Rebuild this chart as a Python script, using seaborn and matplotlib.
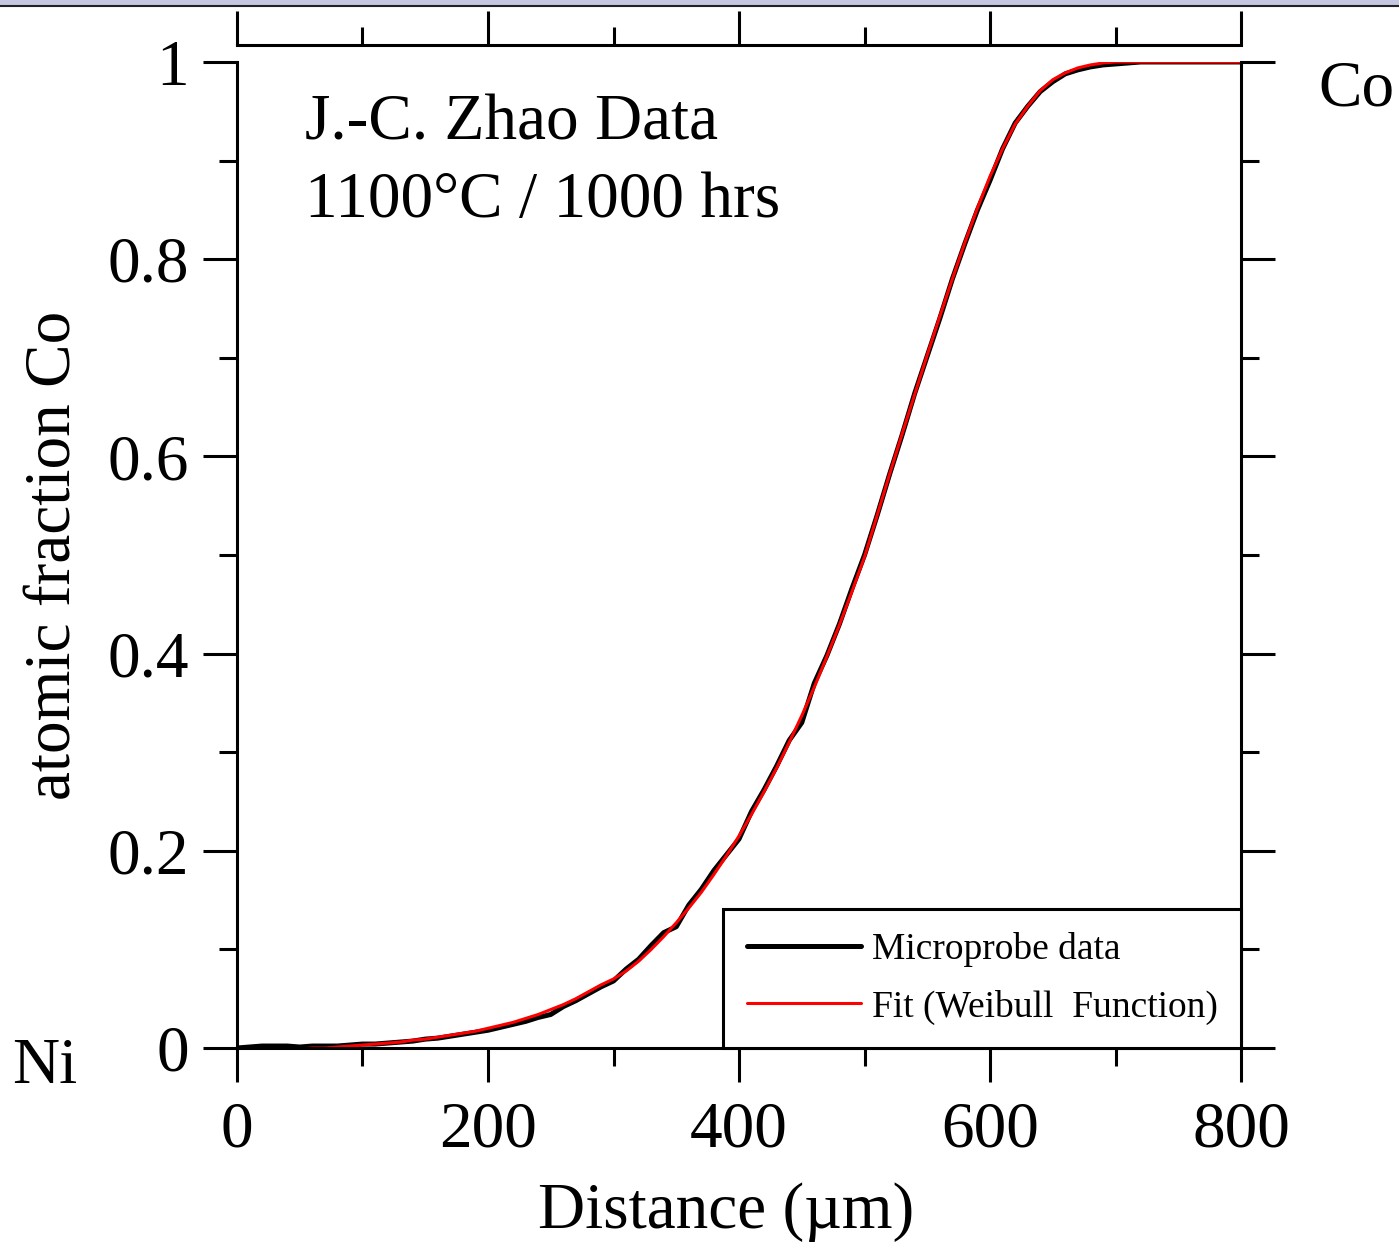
import numpy as np
import pandas as pd
import matplotlib
matplotlib.use("Agg")
import matplotlib.pyplot as plt
from matplotlib.ticker import MultipleLocator, FuncFormatter
from matplotlib.patches import Rectangle
import seaborn as sns

sns.set_theme(style="ticks")
plt.rcParams['font.family'] = ['Liberation Serif', 'DejaVu Serif']
plt.rcParams['text.color'] = 'black'
plt.rcParams['axes.labelcolor'] = 'black'
plt.rcParams['xtick.color'] = 'black'
plt.rcParams['ytick.color'] = 'black'

# ---------------- data ----------------
distance = list(range(0, 810, 10))

microprobe = [0.000, 0.001, 0.002, 0.002, 0.002, 0.001, 0.002, 0.002, 0.002, 0.003,
              0.004, 0.004, 0.005, 0.006, 0.007, 0.009, 0.010, 0.012, 0.014, 0.016,
              0.018, 0.021, 0.024, 0.027, 0.031, 0.034, 0.042, 0.048, 0.055, 0.062,
              0.068, 0.080, 0.090, 0.104, 0.117, 0.123, 0.145, 0.161, 0.180, 0.196,
              0.212, 0.240, 0.262, 0.286, 0.312, 0.330, 0.370, 0.398, 0.430, 0.466,
              0.500, 0.540, 0.582, 0.622, 0.664, 0.702, 0.740, 0.780, 0.816, 0.850,
              0.880, 0.912, 0.938, 0.955, 0.970, 0.980, 0.988, 0.992, 0.995, 0.997,
              0.998, 0.999, 1.000, 1.000, 1.000, 1.000, 1.000, 1.000, 1.000, 1.000,
              1.000]

weibull_fit = [-0.003, -0.003, -0.002, -0.002, -0.001, -0.001, 0.000, 0.000, 0.001, 0.002,
               0.003, 0.004, 0.005, 0.006, 0.008, 0.009, 0.011, 0.013, 0.015, 0.017,
               0.020, 0.023, 0.026, 0.030, 0.034, 0.039, 0.044, 0.050, 0.057, 0.064,
               0.070, 0.078, 0.088, 0.100, 0.113, 0.127, 0.142, 0.158, 0.176, 0.195,
               0.215, 0.237, 0.260, 0.284, 0.310, 0.337, 0.366, 0.397, 0.429, 0.463,
               0.498, 0.540, 0.582, 0.623, 0.663, 0.703, 0.742, 0.780, 0.817, 0.852,
               0.884, 0.912, 0.937, 0.955, 0.971, 0.982, 0.989, 0.994, 0.997, 0.999,
               1.000, 1.000, 1.000, 1.000, 1.000, 1.000, 1.000, 1.000, 1.000, 1.000,
               1.000]

df = pd.DataFrame({'distance': distance, 'microprobe': microprobe, 'fit': weibull_fit})

# ---------------- figure ----------------
fig = plt.figure(figsize=(13.99, 12.42), dpi=100)
ax = fig.add_axes([0.1694, 0.1562, 0.7177, 0.7939])

# slide frame strip at the very top
fig.patches.append(Rectangle((0, 1 - 5 / 1242), 1, 5 / 1242, transform=fig.transFigure,
                             facecolor='#c6c7e3', edgecolor='none'))
fig.add_artist(plt.Line2D([0, 1], [1 - 5.5 / 1242] * 2, transform=fig.transFigure,
                          color='#222222', lw=1.5))

sns.lineplot(data=df, x='distance', y='microprobe', ax=ax, color='black', lw=3.6,
             label='Microprobe data')
sns.lineplot(data=df, x='distance', y='fit', ax=ax, color='#ff0000', lw=2.2,
             label='Fit (Weibull  Function)')

ax.set_xlim(0, 800)
ax.set_ylim(0, 1)

for s in ax.spines.values():
    s.set_linewidth(2.2)
    s.set_color('black')
ax.spines['top'].set_position(('outward', 12))

ax.xaxis.set_major_locator(MultipleLocator(200))
ax.xaxis.set_minor_locator(MultipleLocator(100))
ax.yaxis.set_major_locator(MultipleLocator(0.2))
ax.yaxis.set_minor_locator(MultipleLocator(0.1))
ax.yaxis.set_major_formatter(FuncFormatter(lambda v, p: f"{v:g}"))

ax.tick_params(which='both', direction='out', top=True, right=True, width=2.2,
               color='black', labelcolor='black', labeltop=False, labelright=False)
ax.tick_params(which='major', length=24.5, labelsize=47)
ax.tick_params(which='minor', length=13)
ax.tick_params(axis='y', which='major', pad=10)
ax.tick_params(axis='x', which='major', pad=14)

ax.set_xlabel('Distance (µm)', fontsize=47, color='black')
ax.set_ylabel('atomic fraction Co', fontsize=47, color='black')
ax.xaxis.set_label_coords(0.487, -0.136)
ax.yaxis.set_label_coords(-0.152, 0.5)

ax.text(0.068, 0.921, 'J.-C. Zhao Data', transform=ax.transAxes, fontsize=47,
        va='baseline', ha='left', color='black')
ax.text(0.068, 0.843, '1100°C / 1000 hrs', transform=ax.transAxes, fontsize=47,
        va='baseline', ha='left', color='black')
ax.text(1.077, 0.956, 'Co', transform=ax.transAxes, fontsize=47, va='baseline',
        ha='left', color='black')
ax.text(-0.224, -0.0355, 'Ni', transform=ax.transAxes, fontsize=47, va='baseline',
        ha='left', color='black')

leg = ax.legend(loc='lower right', bbox_to_anchor=(1, 0), borderaxespad=0,
                fontsize=27, frameon=True, fancybox=False, framealpha=1,
                edgecolor='black', handlelength=3.05, handletextpad=0.29,
                borderpad=0.62, labelspacing=0.6)
leg.get_frame().set_linewidth(2.2)
for t in leg.get_texts():
    t.set_color('black')

fig.savefig('out.png', dpi=100, facecolor='white')
